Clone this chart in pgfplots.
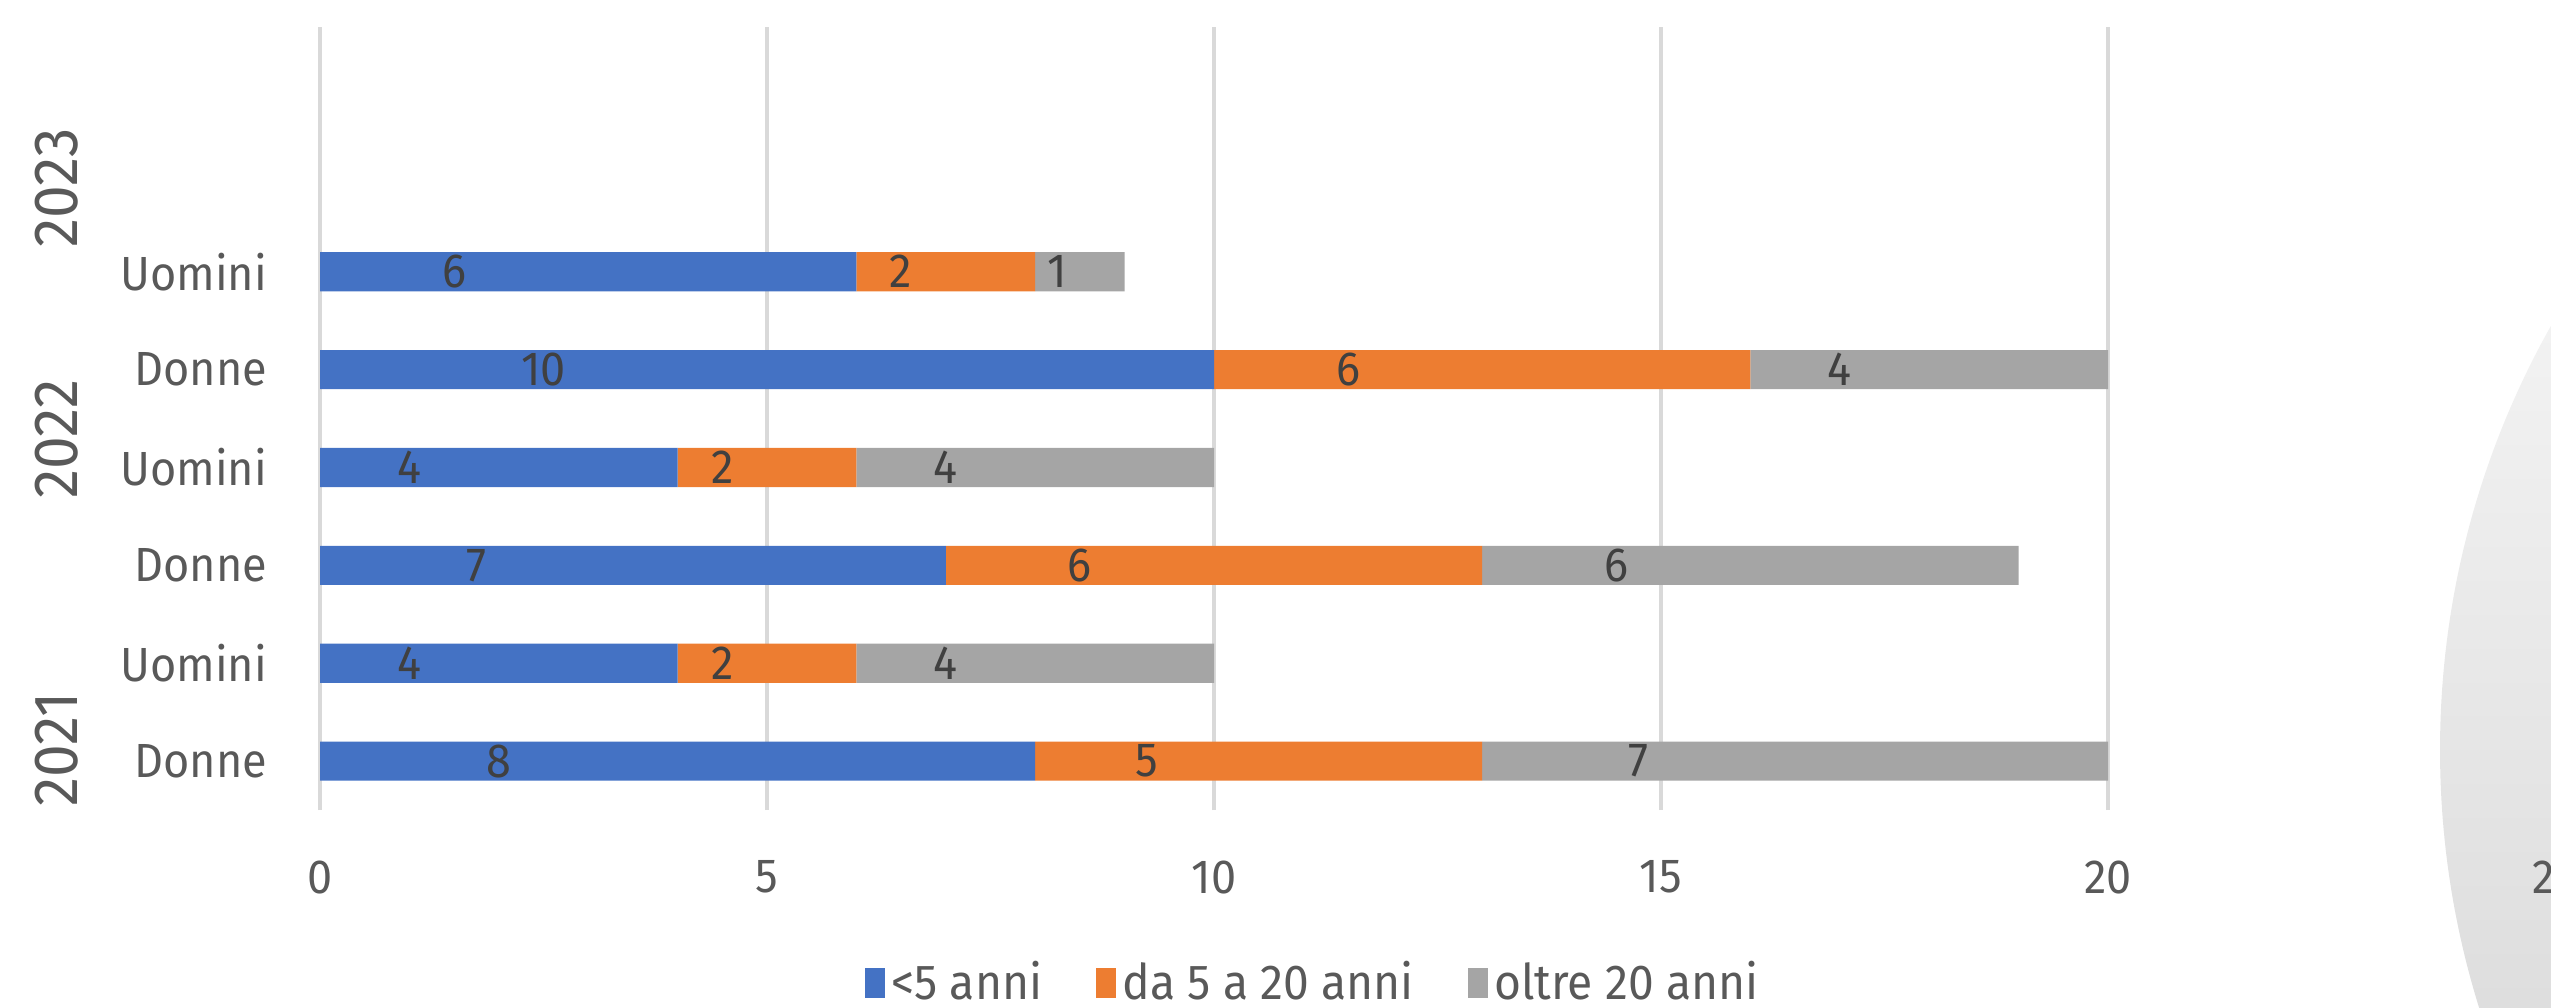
\documentclass[border=0pt]{standalone}
\usepackage{pgfplots}
\pgfplotsset{compat=1.18}
\usepackage{pgfplotstable}
\usepackage{fontspec}
\setmainfont{Fira Sans}[FakeStretch=0.94]
\definecolor{cA}{HTML}{4472C4}
\definecolor{cB}{HTML}{ED7D31}
\definecolor{cC}{HTML}{A5A5A5}
\definecolor{tickc}{HTML}{595959}
\definecolor{labc}{HTML}{404040}
\definecolor{gridc}{HTML}{D9D9D9}
\pgfplotstableread{
y a b c
0 8 5 7
1 4 2 4
2 7 6 6
3 4 2 4
4 10 6 4
5 6 2 1
}\data
\pgfplotsset{
  seg/.style={
    fill=#1, draw=none,
    nodes near coords,
    point meta=explicit,
    visualization depends on=rawx \as \segw,
    every node near coord/.append style={anchor=center, text=labc,
      font=\fontsize{11.5}{12}\selectfont,
      xshift=-5.364pt*\segw},
    legend image code/.code={\fill[##1,draw=none] (0pt,-3.6pt) rectangle (4.8pt,3.6pt);},
  },
}
\begin{document}
\begin{tikzpicture}
\useasboundingbox (0pt,0pt) rectangle (612.24pt,241.68pt);
\clip (0pt,0pt) rectangle (612.24pt,241.68pt);
\shade[top color=white, bottom color=black!20] (793.2pt,61.7pt) circle[radius=207.6pt];
\begin{axis}[
  at={(76.8pt,47.28pt)}, anchor=south west,
  scale only axis, width=536.4pt, height=187.92pt,
  xbar stacked, bar width=0.4,
  xmin=0, xmax=25, ymin=-0.5, ymax=7.5,
  xtick={0,5,10,15,20,25},
  ytick={0,1,2,3,4,5},
  yticklabels={Donne,Uomini,Donne,Uomini,Donne,Uomini},
  axis line style={draw=none},
  major tick length=0pt,
  xmajorgrids, major grid style={draw=gridc, line width=0.8pt},
  /pgf/number format/assume math mode=true,
  tick label style={font=\fontsize{11.5}{12}\selectfont, text=tickc},
  xticklabel style={anchor=center, yshift=-16.1pt, inner sep=0pt},
  yticklabel style={anchor=east, inner sep=0pt, xshift=-12.5pt},
  legend style={at={(0.4438,-0.2209)}, anchor=center, draw=none, fill=none,
    legend columns=-1, font=\fontsize{11.8}{12}\selectfont, text=tickc,
    nodes={inner sep=0pt},
    /tikz/every odd column/.append style={column sep=1.5pt},
    /tikz/every even column/.append style={column sep=13pt}},
  clip=false,
]
\addplot[seg=cA] table[x=a, y=y, meta=a] {\data};
\addplot[seg=cB] table[x=b, y=y, meta=b] {\data};
\addplot[seg=cC] table[x=c, y=y, meta=c] {\data};
\legend{<5 anni, da 5 a 20 anni, oltre 20 anni}
\end{axis}
\begin{scope}[every node/.style={rotate=90, text=tickc, font=\fontsize{15}{16}\selectfont, inner sep=0pt}]
\node at (13.7pt,61.9pt) {2021};
\node at (13.7pt,136.3pt) {2022};
\node at (13.7pt,196.6pt) {2023};
\end{scope}
\end{tikzpicture}
\end{document}
